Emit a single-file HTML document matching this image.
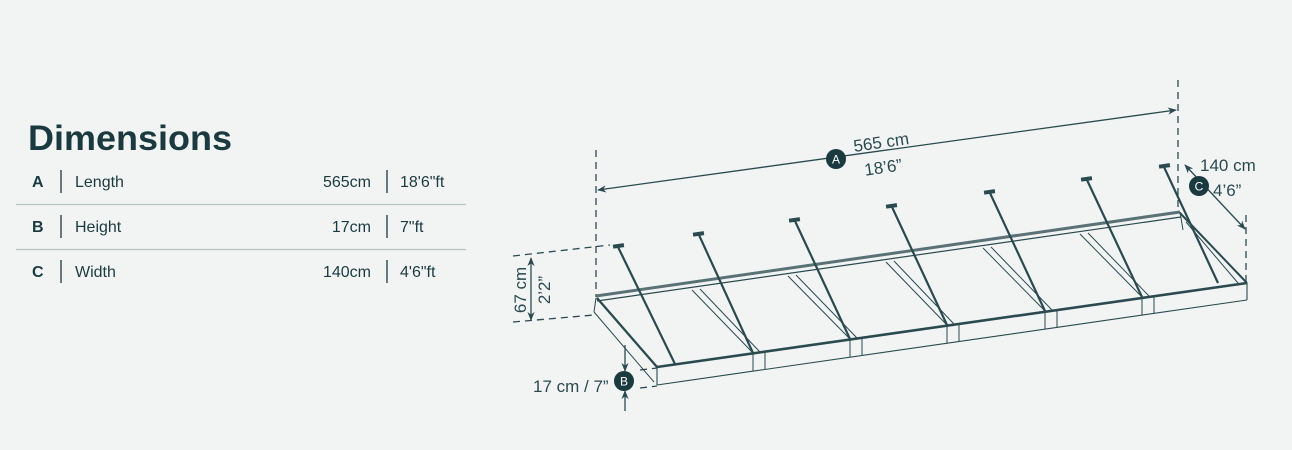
<!DOCTYPE html>
<html><head><meta charset="utf-8"><style>
html,body{margin:0;padding:0;background:#f2f4f3;}
body{width:1292px;height:450px;overflow:hidden;position:relative;font-family:"Liberation Sans",sans-serif;color:#1b3a40;}
</style></head><body>
<svg width="1292" height="450" viewBox="0 0 1292 450" style="position:absolute;left:0;top:0">
<defs>
<marker id="ar" viewBox="0 0 10 10" refX="9" refY="5" markerWidth="9" markerHeight="9" orient="auto-start-reverse" markerUnits="userSpaceOnUse"><path d="M0,1 L10,5 L0,9 L3,5z" fill="#2a4a50"/></marker>
</defs>
<g font-family="Liberation Sans, sans-serif" fill="#1b3a40">
<text x="28" y="150" font-size="35" font-weight="bold" textLength="204" lengthAdjust="spacingAndGlyphs">Dimensions</text>
<g font-size="16">
<text x="32" y="187" font-weight="bold">A</text><text x="75" y="187">Length</text><text x="371" y="187" text-anchor="end">565cm</text><text x="400" y="187">18'6"ft</text>
<text x="32" y="232" font-weight="bold">B</text><text x="75" y="232">Height</text><text x="371" y="232" text-anchor="end">17cm</text><text x="400" y="232">7"ft</text>
<text x="32" y="277" font-weight="bold">C</text><text x="75" y="277">Width</text><text x="371" y="277" text-anchor="end">140cm</text><text x="400" y="277">4'6"ft</text>
</g>
</g>
<g stroke="#1b3a40" stroke-width="1.3">
<line x1="61" y1="170" x2="61" y2="193"/><line x1="387" y1="170" x2="387" y2="193"/>
<line x1="61" y1="215" x2="61" y2="238"/><line x1="387" y1="215" x2="387" y2="238"/>
<line x1="61" y1="260" x2="61" y2="283"/><line x1="387" y1="260" x2="387" y2="283"/>
</g>
<g stroke="#b9c2c4" stroke-width="1.2">
<line x1="16" y1="204.5" x2="466" y2="204.5"/><line x1="16" y1="249.5" x2="466" y2="249.5"/>
</g>

<g stroke="#2a4a50" stroke-width="1.3" stroke-dasharray="7,5" fill="none">
<line x1="596" y1="150" x2="596" y2="297"/>
<line x1="1178" y1="80" x2="1178" y2="212"/>
<line x1="1246" y1="215" x2="1246" y2="283"/>
<line x1="513" y1="256" x2="610" y2="245"/>
<line x1="513" y1="322" x2="594" y2="315"/>
<line x1="640" y1="370" x2="657" y2="368"/>
<line x1="640" y1="388" x2="657" y2="386"/>
</g>
<g stroke="#2a4a50" stroke-width="1.3" fill="none">
<line x1="598" y1="190" x2="1176" y2="110" marker-start="url(#ar)" marker-end="url(#ar)"/>
<line x1="1185" y1="165" x2="1245" y2="229" marker-start="url(#ar)" marker-end="url(#ar)"/>
<line x1="531" y1="258" x2="531" y2="320" marker-start="url(#ar)" marker-end="url(#ar)"/>
<line x1="625" y1="345" x2="625" y2="371" marker-end="url(#ar)"/>
<line x1="625" y1="411" x2="625" y2="391" marker-end="url(#ar)"/>
</g>
<g font-family="Liberation Sans, sans-serif" fill="#2a4a50" font-size="17">
<text transform="translate(882,148) rotate(-8.3)" text-anchor="middle">565 cm</text>
<text transform="translate(884,173) rotate(-8.3)" text-anchor="middle">18’6”</text>
<text x="1200" y="171">140 cm</text>
<text x="1213" y="196">4’6”</text>
<text transform="translate(526,290) rotate(-90)" text-anchor="middle">67 cm</text>
<text transform="translate(550,290) rotate(-90)" text-anchor="middle">2’2”</text>
<text x="533" y="392">17 cm / 7”</text>
</g>
<g fill="#1b3a40"><circle cx="836" cy="159" r="10"/><circle cx="1199" cy="186" r="10"/><circle cx="624" cy="381" r="10"/></g>
<g fill="#fff" font-family="Liberation Sans, sans-serif" font-size="12" text-anchor="middle">
<text x="836" y="163.5">A</text><text x="1199" y="190.5">C</text><text x="624" y="385.5">B</text></g>

<g stroke="#2a4a50" fill="none">
<line x1="596" y1="296" x2="1180" y2="212" stroke-width="3" stroke="#5a7276"/>
<line x1="597" y1="301" x2="1181" y2="217" stroke-width="1.2"/>
<line x1="1180" y1="212" x2="1183" y2="230" stroke-width="1"/>
<line x1="657" y1="367" x2="1247" y2="283" stroke-width="2.6"/>
<line x1="657" y1="385" x2="1247" y2="300" stroke-width="1.1"/>
<line x1="657" y1="367" x2="657" y2="385" stroke-width="1.1"/>
<line x1="1247" y1="283" x2="1247" y2="300" stroke-width="1.1"/>
<line x1="597" y1="298" x2="657" y2="367" stroke-width="2.3"/>
<line x1="594" y1="312" x2="654" y2="382" stroke-width="1"/>
<line x1="596" y1="298" x2="594" y2="312" stroke-width="1"/>
<line x1="1180" y1="213" x2="1247" y2="283" stroke-width="2"/>
<line x1="1186" y1="222" x2="1238" y2="283" stroke-width="1"/>
<g stroke-width="1">
<path d="M692 290 L753 353 M700 289 L760 352"/>
<path d="M788 276 L850 339 M796 275 L857 338"/>
<path d="M886 262 L947 325 M894 261 L954 324"/>
<path d="M983 248 L1045 311 M991 247 L1052 310"/>
<path d="M1080 234 L1142 297 M1088 233 L1149 296"/>
<path d="M753 353 V371 M765 351 V369 M850 339 V357 M862 337 V355 M947 325 V343 M959 323 V341 M1045 311 V329 M1057 309 V327 M1142 297 V315 M1154 295 V313"/>
</g>
<g stroke-width="2.2">
<line x1="618" y1="247" x2="675" y2="364"/>
<line x1="699" y1="235" x2="753" y2="353"/>
<line x1="795" y1="221" x2="850" y2="339"/>
<line x1="892" y1="207" x2="947" y2="325"/>
<line x1="990" y1="193" x2="1045" y2="311"/>
<line x1="1087" y1="180" x2="1142" y2="297"/>
<line x1="1164" y1="167" x2="1218" y2="283"/>
</g>
</g>
<g fill="#2a4a50">
<rect x="613" y="244" width="11" height="4" transform="rotate(-8 618 246)"/>
<rect x="693" y="232" width="11" height="4" transform="rotate(-8 698 234)"/>
<rect x="789" y="218" width="11" height="4" transform="rotate(-8 794 220)"/>
<rect x="886" y="204" width="11" height="4" transform="rotate(-8 891 206)"/>
<rect x="984" y="190" width="11" height="4" transform="rotate(-8 989 192)"/>
<rect x="1081" y="177" width="11" height="4" transform="rotate(-8 1086 179)"/>
<rect x="1159" y="164" width="11" height="4" transform="rotate(-8 1164 166)"/>
</g>
</svg>
</body></html>
